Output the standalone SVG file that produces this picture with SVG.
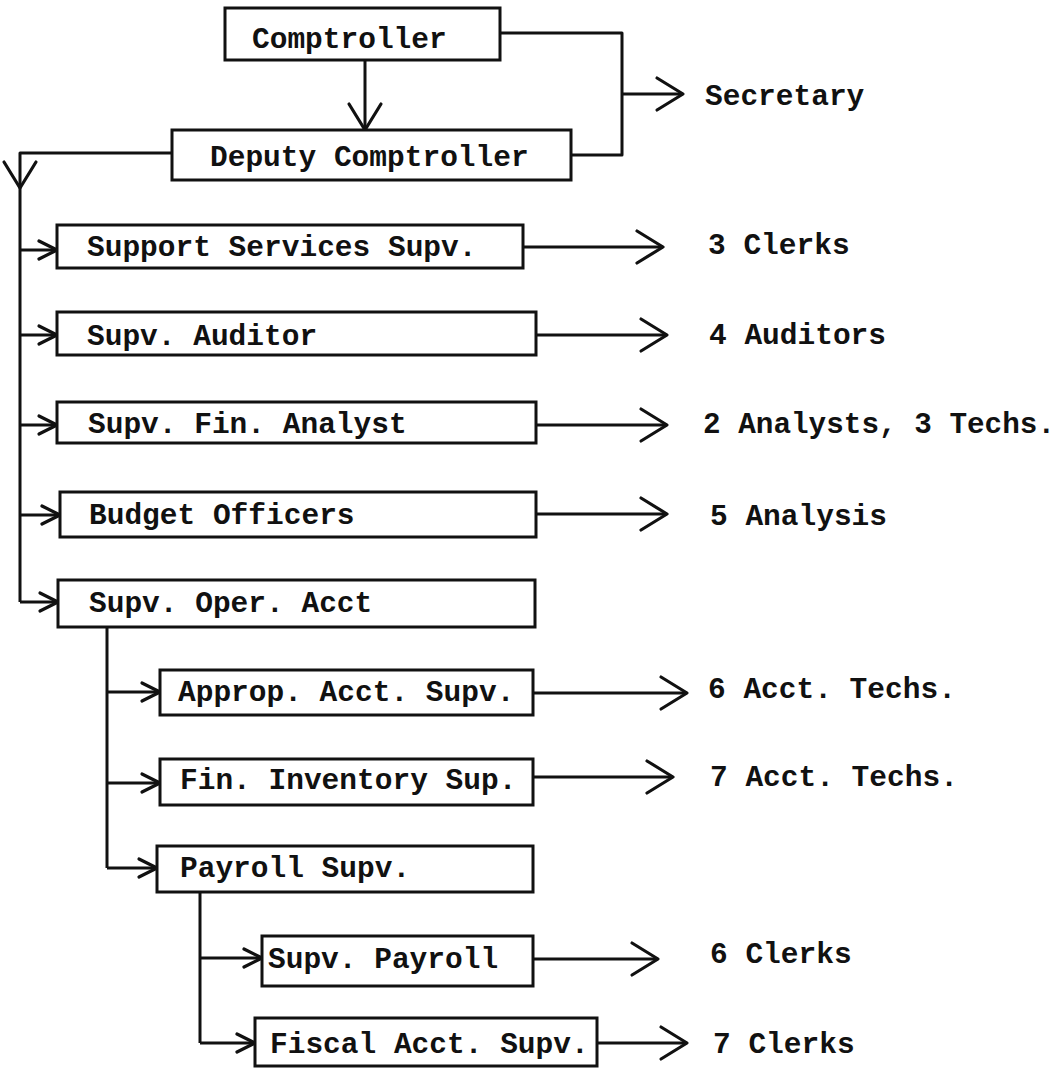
<svg xmlns="http://www.w3.org/2000/svg" width="1061" height="1070" viewBox="0 0 1061 1070">
  <defs>
    <style>
      .box { fill: #fff; stroke: #111; stroke-width: 3; }
      .lbl { font-family: "Liberation Mono", "DejaVu Sans Mono", monospace; font-size: 29.5px; font-weight: bold; fill: #111; }
      .wire { fill: none; stroke: #111; stroke-width: 3; stroke-linejoin: round; }
      .big { marker-end: url(#chev); }
      .small { marker-end: url(#chevS); }
    </style>
    <!-- open chevron heads: large for staff links, small for branch feeds -->
    <marker id="chev" markerUnits="userSpaceOnUse" markerWidth="40" markerHeight="40" viewBox="-32 -20 40 40" refX="0" refY="0" orient="auto" overflow="visible">
      <path d="M-26,-16 L0,0 L-26,16" fill="none" stroke="#111" stroke-width="3.2" stroke-linejoin="round" stroke-linecap="round"/>
    </marker>
    <marker id="chevS" markerUnits="userSpaceOnUse" markerWidth="30" markerHeight="30" viewBox="-24 -15 30 30" refX="0" refY="0" orient="auto" overflow="visible">
      <path d="M-18,-9 L0,0 L-18,9" fill="none" stroke="#111" stroke-width="3.2" stroke-linejoin="round" stroke-linecap="round"/>
    </marker>
  </defs>

  <rect width="1061" height="1070" fill="#fff"/>

  <!-- connectors -->
  <g id="connectors">
    <!-- Comptroller to Deputy -->
    <path class="wire big" d="M365,60 V130"/>
    <!-- both heads to Secretary -->
    <path class="wire" d="M500,33 H622 V155 H571"/>
    <path class="wire big" d="M622,94 H683"/>
    <!-- Deputy to main trunk -->
    <path class="wire big" d="M172,153 H20 V188"/>
    <path class="wire" d="M20,186 V602"/>
    <path class="wire small" d="M20,250 H57"/>
    <path class="wire small" d="M20,335 H57"/>
    <path class="wire small" d="M20,425 H57"/>
    <path class="wire small" d="M20,515 H60"/>
    <path class="wire small" d="M20,602 H58"/>
    <!-- staff arrows, first tier -->
    <path class="wire big" d="M523,247 H663"/>
    <path class="wire big" d="M536,335 H667"/>
    <path class="wire big" d="M536,425 H667"/>
    <path class="wire big" d="M536,514 H667"/>
    <!-- Oper. Acct branch -->
    <path class="wire" d="M107,627 V868"/>
    <path class="wire small" d="M107,692 H160"/>
    <path class="wire small" d="M107,783 H160"/>
    <path class="wire small" d="M107,868 H157"/>
    <path class="wire big" d="M533,693 H687"/>
    <path class="wire big" d="M533,777 H673"/>
    <!-- Payroll branch -->
    <path class="wire" d="M200,892 V1043"/>
    <path class="wire small" d="M200,958 H262"/>
    <path class="wire small" d="M200,1043 H255"/>
    <path class="wire big" d="M533,959 H658"/>
    <path class="wire big" d="M597,1043 H687"/>
  </g>

  <g id="comptroller">
    <rect class="box" x="225" y="8" width="275" height="52"/>
    <text class="lbl" x="252" y="48">Comptroller</text>
  </g>
  <g id="deputy">
    <rect class="box" x="172" y="130" width="399" height="50"/>
    <text class="lbl" x="210" y="166">Deputy Comptroller</text>
  </g>
  <g id="secretary">
    <text class="lbl" x="705" y="105">Secretary</text>
  </g>

  <g id="support-services">
    <rect class="box" x="57" y="225" width="466" height="43"/>
    <text class="lbl" x="87" y="256">Support Services Supv.</text>
  </g>
  <g id="clerks-3">
    <text class="lbl" x="708" y="254">3 Clerks</text>
  </g>

  <g id="supv-auditor">
    <rect class="box" x="57" y="312" width="479" height="43"/>
    <text class="lbl" x="87" y="345">Supv. Auditor</text>
  </g>
  <g id="auditors-4">
    <text class="lbl" x="709" y="344">4 Auditors</text>
  </g>

  <g id="supv-fin-analyst">
    <rect class="box" x="57" y="402" width="479" height="41"/>
    <text class="lbl" x="88" y="433">Supv. Fin. Analyst</text>
  </g>
  <g id="analysts-techs">
    <text class="lbl" x="703" y="433" textLength="352" lengthAdjust="spacingAndGlyphs">2 Analysts, 3 Techs.</text>
  </g>

  <g id="budget-officers">
    <rect class="box" x="60" y="492" width="476" height="45"/>
    <text class="lbl" x="89" y="524">Budget Officers</text>
  </g>
  <g id="analysis-5">
    <text class="lbl" x="710" y="525">5 Analysis</text>
  </g>

  <g id="supv-oper-acct">
    <rect class="box" x="58" y="580" width="477" height="47"/>
    <text class="lbl" x="89" y="612">Supv. Oper. Acct</text>
  </g>

  <g id="approp-acct">
    <rect class="box" x="160" y="670" width="373" height="45"/>
    <text class="lbl" x="178" y="701">Approp. Acct. Supv.</text>
  </g>
  <g id="acct-techs-6">
    <text class="lbl" x="708" y="698">6 Acct. Techs.</text>
  </g>

  <g id="fin-inventory">
    <rect class="box" x="160" y="759" width="373" height="46"/>
    <text class="lbl" x="180" y="789">Fin. Inventory Sup.</text>
  </g>
  <g id="acct-techs-7">
    <text class="lbl" x="710" y="786">7 Acct. Techs.</text>
  </g>

  <g id="payroll-supv">
    <rect class="box" x="157" y="846" width="376" height="46"/>
    <text class="lbl" x="180" y="877">Payroll Supv.</text>
  </g>

  <g id="supv-payroll">
    <rect class="box" x="262" y="936" width="271" height="50"/>
    <text class="lbl" x="268" y="968">Supv. Payroll</text>
  </g>
  <g id="clerks-6">
    <text class="lbl" x="710" y="963">6 Clerks</text>
  </g>

  <g id="fiscal-acct">
    <rect class="box" x="255" y="1018" width="342" height="48"/>
    <text class="lbl" x="270" y="1053">Fiscal Acct. Supv.</text>
  </g>
  <g id="clerks-7">
    <text class="lbl" x="713" y="1053">7 Clerks</text>
  </g>
</svg>
